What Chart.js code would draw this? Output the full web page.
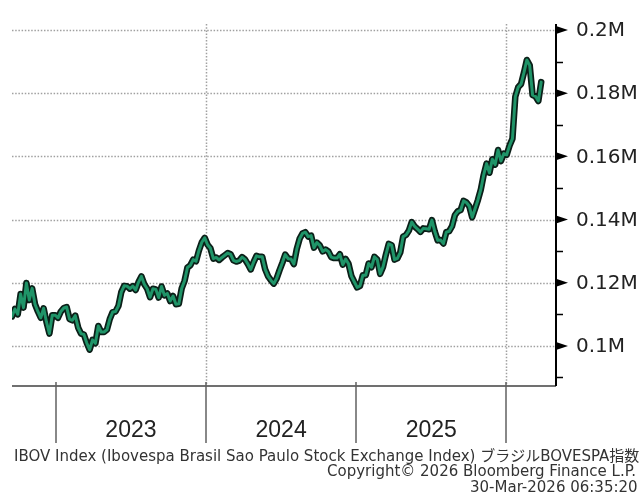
<!DOCTYPE html>
<html>
<head>
<meta charset="utf-8">
<script src="https://cdn.jsdelivr.net/npm/chart.js@4.4.1/dist/chart.umd.min.js"></script>
<style>
  html, body { margin: 0; padding: 0; background: #fff; }
  #wrap { width: 644px; height: 497px; position: relative; overflow: hidden; }
</style>
</head>
<body>
<div id="wrap"><canvas id="grafico" width="644" height="497"></canvas></div>
<script>
// Fechamentos semanais do IBOV (sextas-feiras)
const inicioSemanas = '2022-09-16';
const inicioEixo = '2022-09-16';
const fimEixo = '2026-05-02';

const ibov2022 = [109300, 111700, 110000, 116400, 112100, 119900, 114500, 118200, 113200, 110900,
  108900, 111900, 107500, 103900, 109700, 109700];
const ibov2023 = [108900, 110900, 112000, 112300, 108500, 108100, 109600, 105800, 103900, 103600,
  100900, 98800, 101900, 100800, 106300, 104400, 104400, 105100, 108500, 110700,
  110900, 112600, 117000, 119000, 118900, 118100, 118900, 117700, 120200, 122000,
  119500, 118100, 115400, 118100, 117900, 115300, 118800, 116000, 116600, 114200,
  115800, 113200, 113300, 118200, 120600, 124800, 125500, 127300, 126800, 130200,
  132800, 134200];
const ibov2024 = [132000, 130900, 127600, 128000, 127200, 128000, 128700, 129400, 129000, 127100,
  126700, 127000, 128100, 127400, 125900, 124200, 126500, 128500, 128200, 128200,
  124300, 122100, 120800, 119700, 121300, 123900, 126300, 128900, 127600, 127500,
  125900, 130600, 133900, 135600, 136000, 134600, 134900, 131100, 132700, 131800,
  129900, 130500, 129900, 128100, 127800, 127800, 129000, 125700, 127500, 126000,
  122100, 120300];
const ibov2025 = [118500, 119000, 122400, 122400, 126100, 124900, 128200, 127300, 122800, 125000,
  128900, 132300, 131900, 127300, 127700, 129600, 134600, 135100, 136500, 139200,
  137800, 137000, 136100, 137200, 137100, 136900, 139800, 136200, 133400, 133500,
  132400, 136000, 136300, 137900, 141400, 142600, 143000, 145900, 145400, 144200,
  140700, 143400, 146200, 149500, 154100, 157700, 154800, 159100, 157400, 162000,
  158500, 160900];
const ibov2026 = [160500, 163400, 165600, 178900, 181900, 182900, 186500, 190500, 188800, 179400,
  179000, 177500, 183500];

// Eixo Y (direita)
const marcasY = [100000, 120000, 140000, 160000, 180000, 200000];
const rotulosY = ['0.1M', '0.12M', '0.14M', '0.16M', '0.18M', '0.2M'];
const marcasMenoresY = [90000, 110000, 130000, 150000, 170000, 190000];
const minY = 87300;
const maxY = 201900;

// Eixo X (anos)
const limitesAno = ['2023-01-01', '2024-01-01', '2025-01-01', '2026-01-01'];
const rotulosAno = ['2023', '2024', '2025'];
const gradeAno = ['2024-01-01', '2026-01-01'];

const rodape = [
  'IBOV Index (Ibovespa Brasil Sao Paulo Stock Exchange Index) ブラジルBOVESPA指数',
  'Copyright© 2026 Bloomberg Finance L.P.',
  '30-Mar-2026 06:35:20'
];

const DIA = 86400000;
function ms(s) { return Date.parse(s + 'T00:00:00Z'); }

const fechamentos = [].concat(ibov2022, ibov2023, ibov2024, ibov2025, ibov2026);
const pontos = fechamentos.map((v, i) => ({ x: ms(inicioSemanas) + i * 7 * DIA, y: v }));

const fonteEixo = '20px "DejaVu Sans", Verdana, sans-serif';
const fonteAno = '23px "Liberation Sans", Arial, sans-serif';
const fonteRodape = '15px "DejaVu Sans", Verdana, "Noto Sans CJK JP", sans-serif';

const desenhoBloomberg = {
  id: 'desenhoBloomberg',
  beforeDatasetsDraw(chart) {
    const { ctx, chartArea: a, scales } = chart;
    ctx.save();
    ctx.strokeStyle = '#a0a0a0';
    ctx.lineWidth = 1.5;
    ctx.setLineDash([1.5, 1.7]);
    // grade horizontal pontilhada
    marcasY.forEach(v => {
      const y = Math.round(scales.y.getPixelForValue(v)) + 0.5;
      ctx.beginPath();
      ctx.moveTo(a.left, y);
      ctx.lineTo(a.right, y);
      ctx.stroke();
    });
    // grade vertical pontilhada
    gradeAno.forEach(d => {
      const x = Math.round(scales.x.getPixelForValue(ms(d))) + 0.5;
      ctx.beginPath();
      ctx.moveTo(x, a.top);
      ctx.lineTo(x, a.bottom);
      ctx.stroke();
    });
    ctx.restore();
  },
  afterDatasetsDraw(chart) {
    const { ctx, chartArea: a, scales } = chart;
    ctx.save();
    ctx.setLineDash([]);

    // linha do eixo X
    ctx.strokeStyle = '#707070';
    ctx.lineWidth = 2;
    ctx.beginPath();
    ctx.moveTo(a.left, a.bottom);
    ctx.lineTo(a.right, a.bottom);
    ctx.stroke();

    // divisões de ano abaixo do eixo
    ctx.strokeStyle = '#606060';
    ctx.lineWidth = 1.5;
    limitesAno.forEach(d => {
      const x = Math.round(scales.x.getPixelForValue(ms(d)));
      ctx.beginPath();
      ctx.moveTo(x, a.bottom - 4);
      ctx.lineTo(x, a.bottom + 57);
      ctx.stroke();
    });

    // rótulos dos anos, centrados entre as divisões
    ctx.fillStyle = '#222';
    ctx.font = fonteAno;
    ctx.textAlign = 'center';
    ctx.textBaseline = 'middle';
    rotulosAno.forEach((r, i) => {
      const x0 = scales.x.getPixelForValue(ms(limitesAno[i]));
      const x1 = scales.x.getPixelForValue(ms(limitesAno[i + 1]));
      ctx.fillText(r, (x0 + x1) / 2, a.bottom + 45);
    });

    // linha do eixo Y (direita)
    ctx.strokeStyle = '#000';
    ctx.lineWidth = 2;
    ctx.beginPath();
    ctx.moveTo(a.right, a.top);
    ctx.lineTo(a.right, a.bottom);
    ctx.stroke();

    // marcas menores
    ctx.lineWidth = 1.5;
    marcasMenoresY.forEach(v => {
      const y = Math.round(scales.y.getPixelForValue(v)) + 0.5;
      ctx.beginPath();
      ctx.moveTo(a.right, y);
      ctx.lineTo(a.right + 7, y);
      ctx.stroke();
    });

    // marcas maiores (triângulos) e rótulos
    ctx.fillStyle = '#000';
    marcasY.forEach(v => {
      const y = scales.y.getPixelForValue(v);
      ctx.beginPath();
      ctx.moveTo(a.right, y - 4);
      ctx.lineTo(a.right + 12, y);
      ctx.lineTo(a.right, y + 4);
      ctx.closePath();
      ctx.fill();
    });
    ctx.fillStyle = '#222';
    ctx.font = fonteEixo;
    ctx.textAlign = 'left';
    ctx.textBaseline = 'middle';
    marcasY.forEach((v, i) => {
      ctx.fillText(rotulosY[i], a.right + 20, scales.y.getPixelForValue(v) + 1);
    });

    // rodapé
    ctx.font = fonteRodape;
    ctx.fillStyle = '#333';
    ctx.textAlign = 'left';
    ctx.fillText(rodape[0], 14, 457);
    ctx.fillText(rodape[1], 327, 472);
    ctx.fillText(rodape[2], 470, 488);
    ctx.restore();
  }
};

const grafico = new Chart(document.getElementById('grafico').getContext('2d'), {
  type: 'line',
  data: {
    datasets: [
      {
        label: 'IBOV',
        data: pontos,
        borderColor: '#1f9468',
        borderWidth: 3,
        borderJoinStyle: 'round',
        borderCapStyle: 'round',
        pointRadius: 0,
        tension: 0,
        order: 1
      },
      {
        label: 'IBOV contorno',
        data: pontos,
        borderColor: '#0b1f18',
        borderWidth: 6.5,
        borderJoinStyle: 'round',
        borderCapStyle: 'round',
        pointRadius: 0,
        tension: 0,
        order: 2
      }
    ]
  },
  options: {
    responsive: false,
    animation: false,
    devicePixelRatio: 1,
    layout: { padding: { left: 12, top: 24, right: 88, bottom: 111 } },
    plugins: {
      legend: { display: false },
      tooltip: { enabled: false }
    },
    scales: {
      x: { type: 'linear', display: false, min: ms(inicioEixo), max: ms(fimEixo) },
      y: { type: 'linear', display: false, min: minY, max: maxY }
    }
  },
  plugins: [desenhoBloomberg]
});
</script>
</body>
</html>
